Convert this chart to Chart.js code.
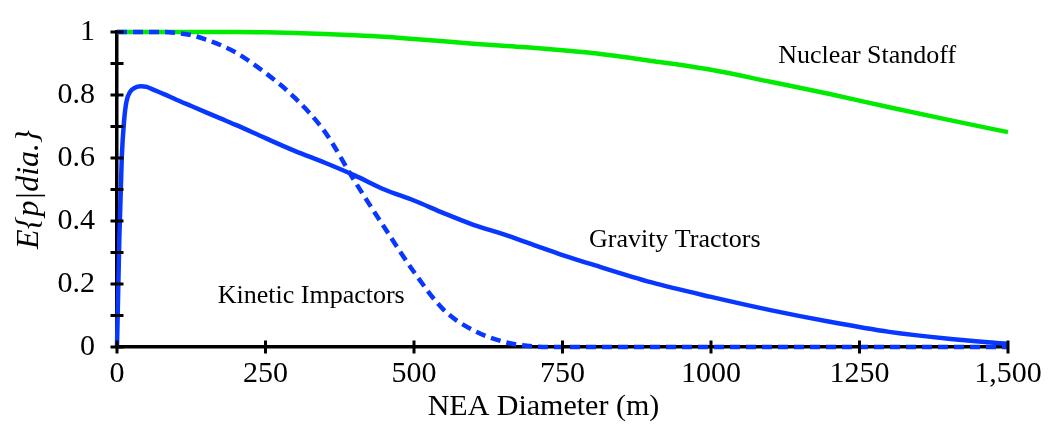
<!DOCTYPE html>
<html>
<head>
<meta charset="utf-8">
<script src="https://cdn.jsdelivr.net/npm/chart.js@4.4.1/dist/chart.umd.min.js"></script>
<style>
  html, body { margin: 0; padding: 0; background: #fff; }
  #wrap { width: 1049px; height: 445px; position: relative; }
</style>
</head>
<body>
<div id="wrap"><canvas id="c" width="1049" height="445"></canvas></div>
<script>
// ---- data ----
const diameters = [0,4,8,12,16,22,30,40,50,60,80,100,125,150,175,200,250,300,350,400,450,500,550,600,650,700,750,800,900,1000,1100,1200,1300,1400,1500];
const gravityTractors = [0,0.35,0.6,0.72,0.78,0.81,0.823,0.828,0.826,0.818,0.802,0.785,0.765,0.745,0.725,0.705,0.663,0.622,0.585,0.545,0.50,0.465,0.425,0.388,0.358,0.325,0.292,0.262,0.205,0.159,0.117,0.08,0.048,0.026,0.01];
const kineticImpactors = [1,1,1,1,1,1,1,1,1,1,1,0.997,0.99,0.976,0.958,0.935,0.87,0.79,0.683,0.527,0.38,0.238,0.118,0.053,0.017,0.002,0,0,0,0,0,0,0,0,0];
const nuclearStandoff = [1,1,1,1,1,1,1,1,1,1,1,1,1,1,1,1,0.999,0.997,0.994,0.99,0.985,0.978,0.971,0.963,0.956,0.95,0.942,0.933,0.908,0.88,0.842,0.803,0.761,0.721,0.682];
const xTickLabels = ['0','250','500','750','1000','1250','1,500'];
const yTickLabels = ['0','0.2','0.4','0.6','0.8','1'];
const seriesNames = ['Nuclear Standoff','Gravity Tractors','Kinetic Impactors'];
// annotation anchor points (data units)
const labelAnchors = [[1263,0.923],[939,0.338],[327,0.16]];

const FONT = "'Liberation Serif','Times New Roman',serif";
const BLUE = 'rgb(8,56,255)';
const GREEN = 'rgb(0,235,0)';

function pts(ys){ return diameters.map((d,i)=>({x:d,y:ys[i]})); }

const axisTicks = {
  id:'axisTicks',
  afterDraw(chart){
    const ctx = chart.ctx, xs = chart.scales.x, ys = chart.scales.y;
    ctx.save();
    ctx.strokeStyle = '#000'; ctx.lineWidth = 3;
    ys.ticks.forEach(t=>{
      const p = ys.getPixelForValue(t.value);
      ctx.beginPath(); ctx.moveTo(xs.left-6.5, p); ctx.lineTo(xs.left+6.5, p); ctx.stroke();
    });
    xs.ticks.forEach(t=>{
      const p = xs.getPixelForValue(t.value);
      ctx.beginPath(); ctx.moveTo(p, ys.bottom-6.5); ctx.lineTo(p, ys.bottom+6.5); ctx.stroke();
    });
    ctx.restore();
  }
};

const textLabels = {
  id:'textLabels',
  afterDatasetsDraw(chart){
    const ctx = chart.ctx, xs = chart.scales.x, ys = chart.scales.y, ca = chart.chartArea;
    ctx.save();
    ctx.fillStyle = '#000';
    ctx.textAlign = 'center'; ctx.textBaseline = 'middle';
    ctx.font = "26px " + FONT;
    labelAnchors.forEach((a,i)=>{
      ctx.fillText(seriesNames[i], xs.getPixelForValue(a[0]), ys.getPixelForValue(a[1]));
    });
    ctx.font = "30px " + FONT;
    ctx.fillText('NEA Diameter (m)', ca.left + 0.4786*(ca.right-ca.left), 407);
    ctx.restore();
  }
};

new Chart(document.getElementById('c'), {
  type:'line',
  data:{
    datasets:[
      {label:seriesNames[2], data:pts(kineticImpactors), borderColor:BLUE, borderWidth:4.5, borderDash:[10,6], pointRadius:0, cubicInterpolationMode:'monotone', fill:false, order:0, clip:false},
      {label:seriesNames[1], data:pts(gravityTractors), borderColor:BLUE, borderWidth:4.5, pointRadius:0, cubicInterpolationMode:'monotone', fill:false, order:1, clip:false},
      {label:seriesNames[0], data:pts(nuclearStandoff), borderColor:GREEN, borderWidth:4.5, pointRadius:0, cubicInterpolationMode:'monotone', fill:false, order:2, clip:false}
    ]
  },
  options:{
    responsive:false,
    animation:false,
    events:[],
    layout:{padding:{top:22,right:41,left:0,bottom:0}},
    plugins:{legend:{display:false}, tooltip:{enabled:false}},
    scales:{
      x:{
        type:'linear', min:0, max:1500,
        grid:{display:false},
        border:{display:true,color:'#000',width:3.5},
        ticks:{stepSize:250, autoSkip:false, maxRotation:0, padding:1, color:'#000',
          font:{family:FONT,size:30},
          callback:(v,i)=>xTickLabels[i]},
        afterFit:(s)=>{ s.height = 98; }
      },
      y:{
        type:'linear', min:0, max:1,
        grid:{display:false},
        border:{display:true,color:'#000',width:3.5},
        ticks:{stepSize:0.1, autoSkip:false, padding:14, color:'#000',
          font:{family:FONT,size:30},
          callback:(v,i)=> (i%2===0 ? yTickLabels[i/2] : '')},
        title:{display:true, text:'E{p|dia.}', color:'#000', padding:{top:10,bottom:0},
          font:{family:FONT,size:32,style:'italic'}},
        afterFit:(s)=>{ s.width = 117; }
      }
    }
  },
  plugins:[axisTicks, textLabels]
});
</script>
</body>
</html>
